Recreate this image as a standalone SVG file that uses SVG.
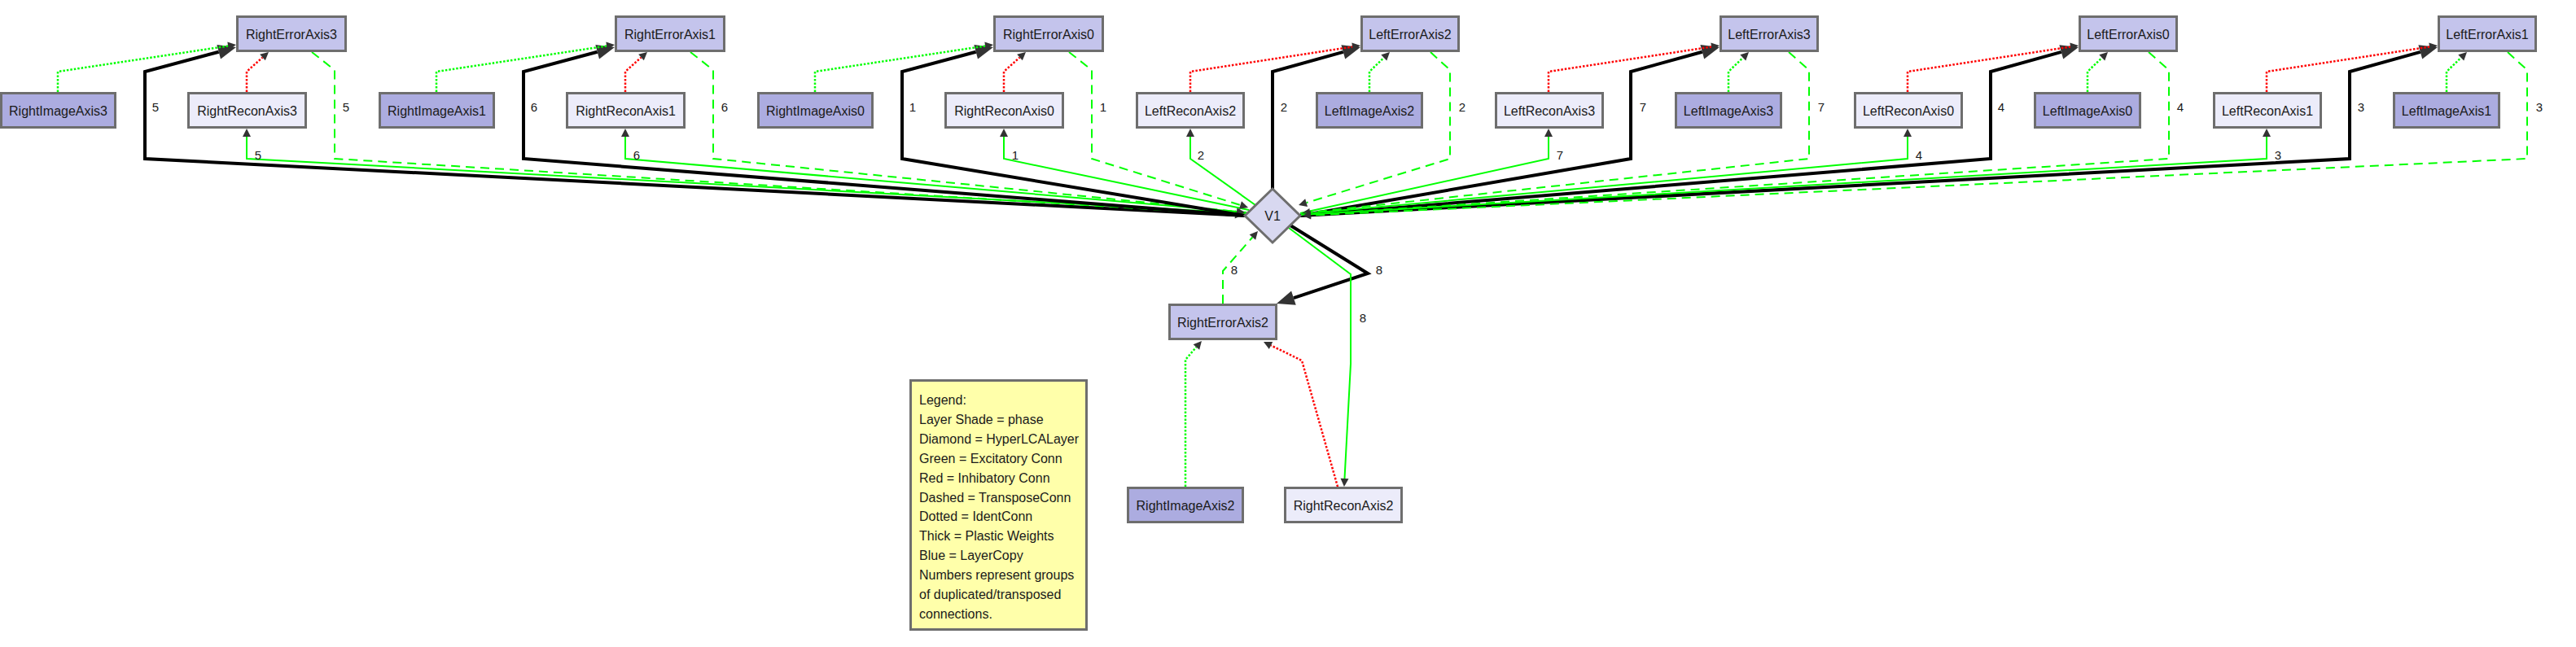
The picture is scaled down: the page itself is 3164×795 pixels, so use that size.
<svg xmlns="http://www.w3.org/2000/svg" width="3164" height="795" viewBox="0 0 3164 795">
<style>
.n rect,.n polygon{stroke:#6e6e6e;stroke-width:3}
.err{fill:#c4c4ec}.img{fill:#acace0}.rec{fill:#ececfa}
text{font-family:"Liberation Sans",Arial,Helvetica,sans-serif;fill:#1a1a1a}
.t{font-size:16px;text-anchor:middle}
.lbl{font-size:15px;text-anchor:middle}
.lg{font-size:16px}
#edges path{fill:none;stroke-linejoin:miter}
.thick{stroke:#000;stroke-width:4;marker-end:url(#ab)}
.exc{stroke:#00ff00;stroke-width:2;marker-end:url(#as)}
.dash{stroke:#00ff00;stroke-width:2;stroke-dasharray:11,7;marker-end:url(#as)}
.gdot{stroke:#00ff00;stroke-width:2.5;stroke-dasharray:2.5,2;marker-end:url(#as)}
.rdot{stroke:#ff0000;stroke-width:2.5;stroke-dasharray:2.5,2;marker-end:url(#as)}
</style>
<defs>
<marker id="ab" markerUnits="userSpaceOnUse" viewBox="0 0 22 18" markerWidth="22" markerHeight="18" refX="0" refY="9" orient="auto" overflow="visible"><path d="M0,0 L22,9 L0,18 z" fill="#333"/></marker>
<marker id="as" markerUnits="userSpaceOnUse" viewBox="0 0 10 10" markerWidth="10" markerHeight="10" refX="0" refY="5" orient="auto" overflow="visible"><path d="M0,0 L10,5 L0,10 z" fill="#333"/></marker>
</defs>
<rect width="3164" height="795" fill="#fff"/>
<g id="edges">
<!-- group 5 -->
<path class="thick" d="M1529,265 L178,195 L178,88 L268.7,63.7"/>
<path class="exc" d="M1530,262 L303,195 L303,168"/>
<path class="dash" d="M383,64 L411,86 L411,195 L1517,263.4"/>
<path class="gdot" d="M71,113 L71,88 L280.1,56.5"/>
<path class="rdot" d="M303,113 L303,88 L322.5,70.6"/>
<!-- group 6 -->
<path class="thick" d="M1529,265 L643,195 L643,88 L733.7,63.7"/>
<path class="exc" d="M1531,261 L768,195 L768,168"/>
<path class="dash" d="M848,64 L876,86 L876,195 L1519,260"/>
<path class="gdot" d="M536,113 L536,88 L745.1,56.5"/>
<path class="rdot" d="M768,113 L768,88 L787.5,70.6"/>
<!-- group 1 -->
<path class="thick" d="M1529,265 L1108,195 L1108,88 L1198.7,63.7"/>
<path class="exc" d="M1534,258 L1233,195 L1233,168"/>
<path class="dash" d="M1313,64 L1341,86 L1341,195 L1523.5,252"/>
<path class="gdot" d="M1001,113 L1001,88 L1210.1,56.5"/>
<path class="rdot" d="M1233,113 L1233,88 L1252.5,70.6"/>
<!-- group 2 -->
<path class="thick" d="M1563,232 L1563,88 L1649.8,63.9"/>
<path class="exc" d="M1542,252 L1462,195 L1462,168"/>
<path class="dash" d="M1757,64 L1781,86 L1781,195 L1604.6,249.1"/>
<path class="gdot" d="M1682,113 L1682,88 L1699.8,70.9"/>
<path class="rdot" d="M1462,113 L1462,88 L1661.1,57.5"/>
<!-- group 7 -->
<path class="thick" d="M1597,265 L2003,195 L2003,88 L2090.8,63.8"/>
<path class="exc" d="M1597,262 L1902,195 L1902,168"/>
<path class="dash" d="M2197,64 L2222,86 L2222,195 L1608.9,260.9"/>
<path class="gdot" d="M2123,113 L2123,88 L2140.8,70.9"/>
<path class="rdot" d="M1902,113 L1902,88 L2102.1,57.5"/>
<!-- group 4 -->
<path class="thick" d="M1597,265 L2445,195 L2445,88 L2531.8,63.9"/>
<path class="exc" d="M1598,263 L2343,195 L2343,168"/>
<path class="dash" d="M2639,64 L2664,86 L2664,195 L1610,263.4"/>
<path class="gdot" d="M2564,113 L2564,88 L2581.8,70.9"/>
<path class="rdot" d="M2343,113 L2343,88 L2543.1,57.5"/>
<!-- group 3 -->
<path class="thick" d="M1597,265 L2886,195 L2886,88 L2972.8,63.9"/>
<path class="exc" d="M1598,264 L2784,195 L2784,168"/>
<path class="dash" d="M3080,64 L3104,86 L3104,195 L1610,264.5"/>
<path class="gdot" d="M3005,113 L3005,88 L3022.8,70.9"/>
<path class="rdot" d="M2784,113 L2784,88 L2984.1,57.5"/>
<!-- group 8 -->
<path class="thick" d="M1585,277 L1680,336 L1588.9,366.1"/>
<path class="exc" d="M1583,280 L1659,337 L1659,447 L1651.5,588"/>
<path class="dash" d="M1502,373 L1502,333 L1538.4,291.5"/>
<path class="gdot" d="M1456,598 L1456,442 L1469.4,426.5"/>
<path class="rdot" d="M1643,598 L1599,443 L1561,424.4"/>
<g id="edge-labels">
<text class="lbl" x="191" y="137">5</text><text class="lbl" x="425" y="137">5</text><text class="lbl" x="317" y="196">5</text>
<text class="lbl" x="656" y="137">6</text><text class="lbl" x="890" y="137">6</text><text class="lbl" x="782" y="196">6</text>
<text class="lbl" x="1121" y="137">1</text><text class="lbl" x="1355" y="137">1</text><text class="lbl" x="1247" y="196">1</text>
<text class="lbl" x="1577" y="137">2</text><text class="lbl" x="1796" y="137">2</text><text class="lbl" x="1475" y="196">2</text>
<text class="lbl" x="2018" y="137">7</text><text class="lbl" x="2237" y="137">7</text><text class="lbl" x="1916" y="196">7</text>
<text class="lbl" x="2458" y="137">4</text><text class="lbl" x="2678" y="137">4</text><text class="lbl" x="2357" y="196">4</text>
<text class="lbl" x="2900" y="137">3</text><text class="lbl" x="3119" y="137">3</text><text class="lbl" x="2798" y="196">3</text>
<text class="lbl" x="1516" y="337">8</text><text class="lbl" x="1694" y="337">8</text><text class="lbl" x="1674" y="396">8</text>
</g>
</g>
<g id="nodes">
<g id="RightErrorAxis3" class="n"><rect class="err" x="291.5" y="20.5" width="133" height="42"/><text class="t" x="358" y="47.5">RightErrorAxis3</text></g>
<g id="RightErrorAxis1" class="n"><rect class="err" x="756.5" y="20.5" width="133" height="42"/><text class="t" x="823" y="47.5">RightErrorAxis1</text></g>
<g id="RightErrorAxis0" class="n"><rect class="err" x="1221.5" y="20.5" width="133" height="42"/><text class="t" x="1288" y="47.5">RightErrorAxis0</text></g>
<g id="LeftErrorAxis2" class="n"><rect class="err" x="1672.5" y="20.5" width="119" height="42"/><text class="t" x="1732" y="47.5">LeftErrorAxis2</text></g>
<g id="LeftErrorAxis3" class="n"><rect class="err" x="2113.5" y="20.5" width="119" height="42"/><text class="t" x="2173" y="47.5">LeftErrorAxis3</text></g>
<g id="LeftErrorAxis0" class="n"><rect class="err" x="2554.5" y="20.5" width="119" height="42"/><text class="t" x="2614" y="47.5">LeftErrorAxis0</text></g>
<g id="LeftErrorAxis1" class="n"><rect class="err" x="2995.5" y="20.5" width="119" height="42"/><text class="t" x="3055" y="47.5">LeftErrorAxis1</text></g>
<g id="RightImageAxis3" class="n"><rect class="img" x="1.5" y="114.5" width="140" height="42"/><text class="t" x="71.5" y="141.5">RightImageAxis3</text></g>
<g id="RightReconAxis3" class="n"><rect class="rec" x="231.5" y="114.5" width="144" height="42"/><text class="t" x="303.5" y="141.5">RightReconAxis3</text></g>
<g id="RightImageAxis1" class="n"><rect class="img" x="466.5" y="114.5" width="140" height="42"/><text class="t" x="536.5" y="141.5">RightImageAxis1</text></g>
<g id="RightReconAxis1" class="n"><rect class="rec" x="696.5" y="114.5" width="144" height="42"/><text class="t" x="768.5" y="141.5">RightReconAxis1</text></g>
<g id="RightImageAxis0" class="n"><rect class="img" x="931.5" y="114.5" width="140" height="42"/><text class="t" x="1001.5" y="141.5">RightImageAxis0</text></g>
<g id="RightReconAxis0" class="n"><rect class="rec" x="1161.5" y="114.5" width="144" height="42"/><text class="t" x="1233.5" y="141.5">RightReconAxis0</text></g>
<g id="LeftReconAxis2" class="n"><rect class="rec" x="1396.5" y="114.5" width="131" height="42"/><text class="t" x="1462" y="141.5">LeftReconAxis2</text></g>
<g id="LeftImageAxis2" class="n"><rect class="img" x="1617.5" y="114.5" width="129" height="42"/><text class="t" x="1682" y="141.5">LeftImageAxis2</text></g>
<g id="LeftReconAxis3" class="n"><rect class="rec" x="1837.5" y="114.5" width="131" height="42"/><text class="t" x="1903" y="141.5">LeftReconAxis3</text></g>
<g id="LeftImageAxis3" class="n"><rect class="img" x="2058.5" y="114.5" width="129" height="42"/><text class="t" x="2123" y="141.5">LeftImageAxis3</text></g>
<g id="LeftReconAxis0" class="n"><rect class="rec" x="2278.5" y="114.5" width="131" height="42"/><text class="t" x="2344" y="141.5">LeftReconAxis0</text></g>
<g id="LeftImageAxis0" class="n"><rect class="img" x="2499.5" y="114.5" width="129" height="42"/><text class="t" x="2564" y="141.5">LeftImageAxis0</text></g>
<g id="LeftReconAxis1" class="n"><rect class="rec" x="2719.5" y="114.5" width="131" height="42"/><text class="t" x="2785" y="141.5">LeftReconAxis1</text></g>
<g id="LeftImageAxis1" class="n"><rect class="img" x="2940.5" y="114.5" width="129" height="42"/><text class="t" x="3005" y="141.5">LeftImageAxis1</text></g>
<g id="V1" class="n"><polygon points="1563,232 1597,265 1563,298 1529,265" fill="#d8d8f0"/><text class="t" x="1563" y="271">V1</text></g>
<g id="RightErrorAxis2" class="n"><rect class="err" x="1436.5" y="374.5" width="131" height="42"/><text class="t" x="1502" y="401.5">RightErrorAxis2</text></g>
<g id="RightImageAxis2" class="n"><rect class="img" x="1385.5" y="599.5" width="141" height="42"/><text class="t" x="1456" y="626.5">RightImageAxis2</text></g>
<g id="RightReconAxis2" class="n"><rect class="rec" x="1578.5" y="599.5" width="143" height="42"/><text class="t" x="1650" y="626.5">RightReconAxis2</text></g>
<g id="Legend" class="n"><rect x="1118.5" y="467.5" width="216" height="306" fill="#ffffaa"/>
<text class="lg" x="1129" y="497">Legend:</text>
<text class="lg" x="1129" y="521">Layer Shade = phase</text>
<text class="lg" x="1129" y="545">Diamond = HyperLCALayer</text>
<text class="lg" x="1129" y="569">Green = Excitatory Conn</text>
<text class="lg" x="1129" y="593">Red = Inhibatory Conn</text>
<text class="lg" x="1129" y="617">Dashed = TransposeConn</text>
<text class="lg" x="1129" y="640">Dotted = IdentConn</text>
<text class="lg" x="1129" y="664">Thick = Plastic Weights</text>
<text class="lg" x="1129" y="688">Blue = LayerCopy</text>
<text class="lg" x="1129" y="712">Numbers represent groups</text>
<text class="lg" x="1129" y="736">of duplicated/transposed</text>
<text class="lg" x="1129" y="760">connections.</text>
</g>
</g>
</svg>
